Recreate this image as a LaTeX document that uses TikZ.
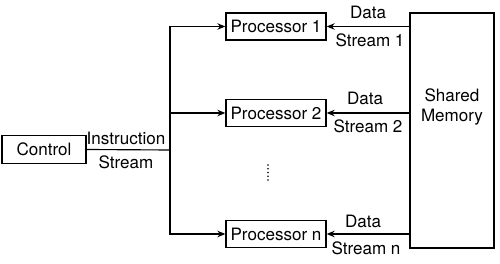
\documentclass[tikz,border=0pt]{standalone}
\usepackage{fontspec}
\setmainfont{TeX Gyre Heros}
\usetikzlibrary{arrows.meta,positioning}

\begin{document}
\begin{tikzpicture}[font=\fontsize{9.7}{11}\selectfont,
  blk/.style={draw,line width=0.75pt,minimum width=2.0cm,minimum height=0.54cm,inner sep=0pt},
  ar/.style={-{Stealth[length=1.6mm,width=1.3mm]},line width=0.65pt},
  ln/.style={line width=0.65pt},
  lab/.style={inner sep=0pt}]
\useasboundingbox (0,0) rectangle (10,5.26);

% ---------- control and the instruction stream ----------
\node[blk,minimum width=1.68cm,minimum height=0.56cm] (ctl) at (0.88,2.27) {Control};
\coordinate (bj) at (3.4,2.26);
\node[lab] (ilab) at (2.52,2.5) {Instruction};
\node[lab] (slab) at (2.52,2.02) {Stream};
\draw[ln] (ctl.east) -- (bj);

% ---------- processors ----------
\node[blk] (p1) at (5.52,4.73) {Processor 1};
\node[blk] (p2) at (5.52,3.0) {Processor 2};
\node[blk] (pn) at (5.52,0.58) {Processor n};
\foreach \y in {1.66,1.735,1.81,1.885,1.96}
  \fill (5.36,\y) circle (0.018);
\draw[ar] (bj) |- (p1.west);
\draw[ar] (bj) |- (p2.west);
\draw[ar] (bj) |- (pn.west);

% ---------- shared memory and the data streams ----------
\node[draw,line width=0.75pt,minimum width=1.68cm,minimum height=4.7cm,inner sep=0pt] (mem) at (9.04,2.65) {};
\node[lab,align=center] (mlab) at (9.04,3.12) {Shared\\Memory};
\draw[ar] (mem.west |- p1) -- (p1.east);
\draw[ar] (mem.west |- p2) -- (p2.east);
\draw[ar] (mem.west |- pn) -- (pn.east);
\node[lab] (d1) at (7.36,5.02) {Data};
\node[lab] (s1) at (7.4,4.46) {Stream 1};
\node[lab] (d2) at (7.3,3.3) {Data};
\node[lab] (s2) at (7.36,2.74) {Stream 2};
\node[lab] (dn) at (7.26,0.84) {Data};
\node[lab] (sn) at (7.32,0.3) {Stream n};
\end{tikzpicture}
\end{document}
